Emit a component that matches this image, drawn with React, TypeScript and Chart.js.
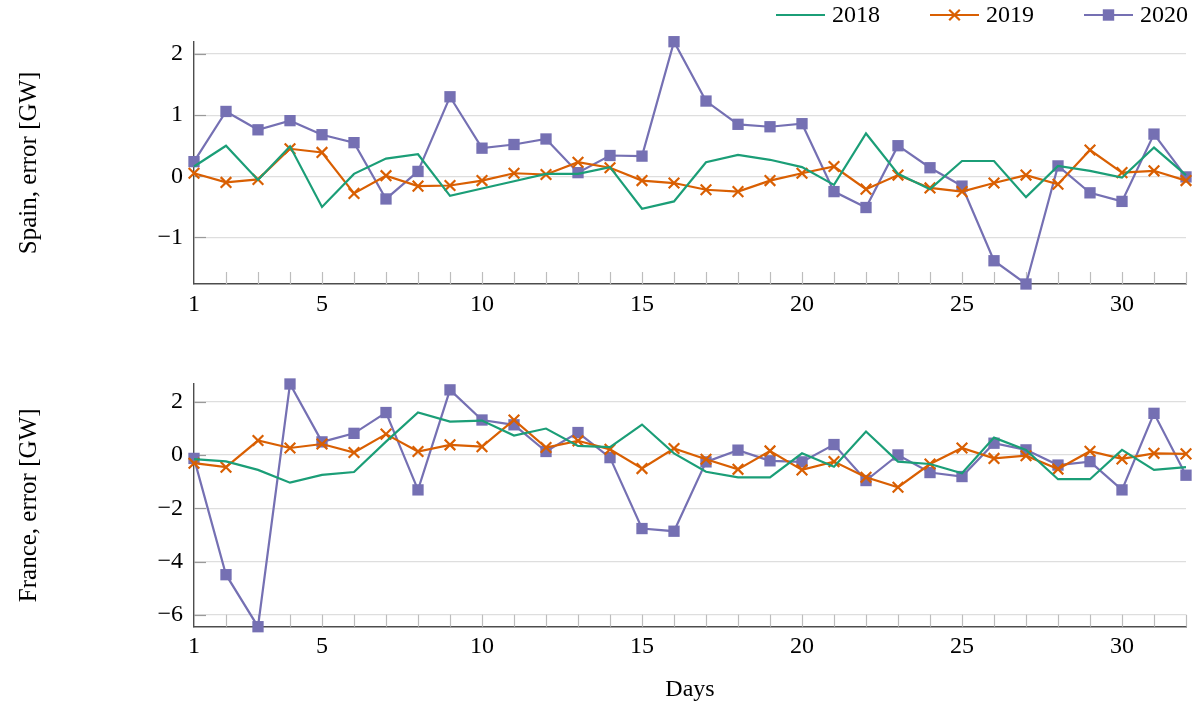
import React, { useEffect, useRef } from 'react';
import { Chart, registerables } from 'chart.js';

Chart.register(...registerables);

const FONT = "'Liberation Serif', 'Times New Roman', serif";

// ---- data ----
const days = [1, 2, 3, 4, 5, 6, 7, 8, 9, 10, 11, 12, 13, 14, 15, 16, 17, 18, 19, 20, 21, 22, 23, 24, 25, 26, 27, 28, 29, 30, 31, 32];
const xTickLabels = [1, 5, 10, 15, 20, 25, 30];
const seriesNames = ['2018', '2019', '2020'];
const seriesColors = ['#1b9e77', '#d95f02', '#7570b3'];

const spain2018 = [0.16, 0.50, -0.06, 0.49, -0.50, 0.04, 0.29, 0.36, -0.32, -0.20, -0.08, 0.04, 0.04, 0.15, -0.53, -0.41, 0.23, 0.35, 0.27, 0.15, -0.14, 0.70, 0.04, -0.21, 0.25, 0.25, -0.34, 0.17, 0.09, -0.02, 0.47, 0.02];
const spain2019 = [0.05, -0.10, -0.05, 0.45, 0.39, -0.28, 0.01, -0.16, -0.15, -0.07, 0.05, 0.03, 0.23, 0.14, -0.07, -0.11, -0.22, -0.25, -0.07, 0.05, 0.16, -0.21, 0.02, -0.19, -0.25, -0.11, 0.02, -0.13, 0.43, 0.06, 0.09, -0.07];
const spain2020 = [0.24, 1.06, 0.76, 0.91, 0.68, 0.55, -0.37, 0.08, 1.30, 0.46, 0.52, 0.61, 0.06, 0.34, 0.33, 2.20, 1.23, 0.85, 0.81, 0.86, -0.25, -0.51, 0.50, 0.14, -0.16, -1.38, -1.76, 0.17, -0.27, -0.41, 0.69, -0.01];

const france2018 = [-0.16, -0.24, -0.56, -1.04, -0.75, -0.64, 0.50, 1.59, 1.25, 1.29, 0.73, 0.99, 0.34, 0.29, 1.14, 0.06, -0.63, -0.84, -0.84, 0.06, -0.44, 0.88, -0.25, -0.34, -0.69, 0.65, 0.19, -0.91, -0.91, 0.19, -0.56, -0.46];
const france2019 = [-0.31, -0.46, 0.54, 0.26, 0.41, 0.09, 0.78, 0.13, 0.38, 0.31, 1.31, 0.28, 0.53, 0.21, -0.51, 0.24, -0.16, -0.54, 0.15, -0.56, -0.25, -0.84, -1.21, -0.34, 0.26, -0.13, -0.03, -0.53, 0.14, -0.15, 0.06, 0.04];
const france2020 = [-0.13, -4.49, -6.44, 2.66, 0.49, 0.81, 1.59, -1.31, 2.44, 1.31, 1.13, 0.13, 0.84, -0.10, -2.76, -2.86, -0.26, 0.18, -0.22, -0.26, 0.39, -0.96, 0.00, -0.66, -0.81, 0.44, 0.19, -0.38, -0.25, -1.31, 1.56, -0.76];

const spainYTicks = [-1, 0, 1, 2];
const franceYTicks = [-6, -4, -2, 0, 2];

// ---- helpers ----
const toPoints = (arr: number[]) => days.map((d, i) => ({ x: d, y: arr[i] }));

function makeDatasets(a: number[], b: number[], c: number[]) {
  return [
    {
      label: seriesNames[0],
      data: toPoints(a),
      borderColor: seriesColors[0],
      backgroundColor: seriesColors[0],
      borderWidth: 2.2,
      pointRadius: 0,
      tension: 0,
      clip: false as any,
    },
    {
      label: seriesNames[1],
      data: toPoints(b),
      borderColor: seriesColors[1],
      backgroundColor: seriesColors[1],
      borderWidth: 2.2,
      pointStyle: 'crossRot',
      pointRadius: 7.5,
      pointBorderWidth: 2.2,
      pointBorderColor: seriesColors[1],
      tension: 0,
      clip: false as any,
    },
    {
      label: seriesNames[2],
      data: toPoints(c),
      borderColor: seriesColors[2],
      backgroundColor: seriesColors[2],
      borderWidth: 2.2,
      pointStyle: 'rect',
      pointRadius: 8,
      pointBorderWidth: 0,
      pointBackgroundColor: seriesColors[2],
      pointBorderColor: seriesColors[2],
      tension: 0,
      clip: false as any,
    },
  ];
}

const decoPlugin = {
  id: 'deco',
  beforeDatasetsDraw(chart: any) {
    const { ctx, chartArea } = chart;
    const xs = chart.scales.x;
    const ys = chart.scales.y;
    ctx.save();
    // minor x ticks, inward
    ctx.strokeStyle = '#bdbdbd';
    ctx.lineWidth = 1.2;
    days.forEach((d) => {
      const px = Math.round(xs.getPixelForValue(d)) + 0.5;
      if (d === days[0]) return;
      ctx.beginPath();
      ctx.moveTo(px, chartArea.bottom);
      ctx.lineTo(px, chartArea.bottom - 12);
      ctx.stroke();
    });
    // y tick marks, inward
    ctx.strokeStyle = '#9a9a9a';
    ys.ticks.forEach((t: any) => {
      const py = Math.round(ys.getPixelForValue(t.value)) + 0.5;
      ctx.beginPath();
      ctx.moveTo(chartArea.left, py);
      ctx.lineTo(chartArea.left + 12, py);
      ctx.stroke();
    });
    ctx.restore();
  },
};

const legendPlugin = {
  id: 'lineLegend',
  afterDraw(chart: any) {
    const { ctx, chartArea } = chart;
    ctx.save();
    ctx.font = `24px ${FONT}`;
    ctx.textBaseline = 'middle';
    ctx.textAlign = 'left';
    const y = 15;
    let cursor = chartArea.right + 2;
    for (let i = seriesNames.length - 1; i >= 0; i--) {
      const name = seriesNames[i];
      const w = ctx.measureText(name).width;
      const tx = cursor - w;
      ctx.fillStyle = '#000';
      ctx.fillText(name, tx, y + 1);
      const lx2 = tx - 7;
      const lx1 = lx2 - 49;
      const mx = (lx1 + lx2) / 2;
      ctx.strokeStyle = seriesColors[i];
      ctx.lineWidth = 2.2;
      ctx.beginPath();
      ctx.moveTo(lx1, y);
      ctx.lineTo(lx2, y);
      ctx.stroke();
      if (i === 1) {
        const r = 5.3;
        ctx.beginPath();
        ctx.moveTo(mx - r, y - r);
        ctx.lineTo(mx + r, y + r);
        ctx.moveTo(mx - r, y + r);
        ctx.lineTo(mx + r, y - r);
        ctx.stroke();
      } else if (i === 2) {
        ctx.fillStyle = seriesColors[i];
        ctx.fillRect(mx - 5.7, y - 5.7, 11.4, 11.4);
      }
      cursor = lx1 - 50;
    }
    ctx.restore();
  },
};

function makeConfig(opts: {
  a: number[]; b: number[]; c: number[];
  yTicks: number[]; yTitle: string; xTitle?: string;
  padTop: number; xHeight: number; legend: boolean;
}) {
  const all = [...opts.a, ...opts.b, ...opts.c];
  const yMin = Math.min(...all);
  const yMax = Math.max(...all);
  return {
    type: 'line' as const,
    data: { datasets: makeDatasets(opts.a, opts.b, opts.c) },
    plugins: opts.legend ? [decoPlugin, legendPlugin] : [decoPlugin],
    options: {
      animation: false as const,
      responsive: false,
      maintainAspectRatio: false,
      layout: { padding: { top: opts.padTop, right: 17, left: 0, bottom: 0 } },
      plugins: { legend: { display: false }, tooltip: { enabled: false } },
      scales: {
        x: {
          type: 'linear' as const,
          min: days[0],
          max: days[days.length - 1],
          afterBuildTicks: (s: any) => { s.ticks = days.map((d) => ({ value: d })); },
          afterFit: (s: any) => { s.height = opts.xHeight; },
          grid: { display: false, drawTicks: false },
          border: { display: true, color: '#4d4d4d', width: 1.4 },
          ticks: {
            autoSkip: false,
            maxRotation: 0,
            padding: 6,
            color: '#000',
            font: { family: FONT, size: 24 },
            callback: (v: any) => (xTickLabels.includes(Number(v)) ? String(v) : ''),
          },
          title: opts.xTitle
            ? { display: true, text: opts.xTitle, color: '#000', font: { family: FONT, size: 24 }, padding: { top: 0, bottom: 4 } }
            : { display: false },
        },
        y: {
          type: 'linear' as const,
          min: yMin,
          max: yMax,
          afterBuildTicks: (s: any) => { s.ticks = opts.yTicks.map((v) => ({ value: v })); },
          afterFit: (s: any) => { s.width = 194; },
          grid: { display: true, drawTicks: false, color: '#dedede', lineWidth: 1.2 },
          border: { display: true, color: '#4d4d4d', width: 1.4 },
          ticks: {
            padding: 11,
            color: '#000',
            font: { family: FONT, size: 24 },
            callback: (v: any) => String(v).replace('-', '\u2212'),
          },
          title: {
            display: true,
            text: opts.yTitle,
            color: '#000',
            font: { family: FONT, size: 25 },
            padding: { top: 14.5, bottom: 0 },
          },
        },
      },
    },
  };
}

function ChartCanvas({ config, width, height, top }: { config: any; width: number; height: number; top: number }) {
  const ref = useRef<HTMLCanvasElement | null>(null);
  useEffect(() => {
    if (!ref.current) return;
    const chart = new Chart(ref.current, config);
    return () => chart.destroy();
  }, []);
  return (
    <canvas
      ref={ref}
      width={width}
      height={height}
      style={{ position: 'absolute', left: 0, top, width, height, display: 'block' }}
    />
  );
}

export default function App() {
  const spainConfig = makeConfig({
    a: spain2018, b: spain2019, c: spain2020,
    yTicks: spainYTicks, yTitle: 'Spain, error [GW]',
    padTop: 41.7, xHeight: 56, legend: true,
  });
  const franceConfig = makeConfig({
    a: france2018, b: france2019, c: france2020,
    yTicks: franceYTicks, yTitle: 'France, error [GW]', xTitle: 'Days',
    padTop: 44, xHeight: 81.3, legend: false,
  });
  return (
    <div style={{ position: 'absolute', left: 0, top: 0, width: 1203, height: 708, background: '#fff', overflow: 'hidden' }}>
      <ChartCanvas config={spainConfig} width={1203} height={340} top={0} />
      <ChartCanvas config={franceConfig} width={1203} height={368} top={340} />
    </div>
  );
}
